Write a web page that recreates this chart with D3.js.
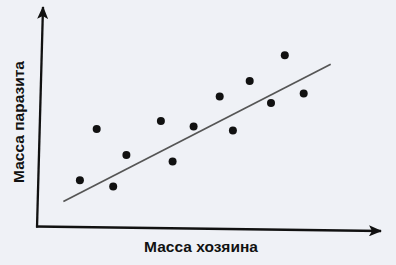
<!DOCTYPE html>
<html>
<head>
<meta charset="utf-8">
<script src="https://cdn.jsdelivr.net/npm/d3@7"></script>
<style>
  html, body { margin: 0; padding: 0; background: #eff1f6; }
  svg { display: block; }
  text { font-family: "Liberation Sans", Arial, sans-serif; font-weight: bold; fill: #111; }
</style>
</head>
<body>
<svg id="chart" width="396" height="265"></svg>
<script>
// данные (условные единицы)
const hostMass = [1.43, 1.99, 2.54, 2.98, 4.13, 4.52, 5.22, 6.09, 6.53, 7.09, 7.80, 8.26, 8.89];
const parasiteMass = [2.29, 4.85, 1.97, 3.55, 5.25, 3.22, 4.97, 6.47, 4.77, 7.25, 6.15, 8.54, 6.62];
const trendX = [0.88, 9.79];
const trendY = [1.22, 8.09];
const xLabel = 'Масса хозяина';
const yLabel = 'Масса паразита';

const svg = d3.select('#chart');

const x = d3.scaleLinear().domain([0, 10]).range([37, 337]);
const y = d3.scaleLinear().domain([0, 10]).range([226, 26]);

svg.append('defs').append('marker')
  .attr('id', 'arrow')
  .attr('viewBox', '0 0 13 11')
  .attr('refX', 12).attr('refY', 5.5)
  .attr('markerWidth', 13).attr('markerHeight', 11)
  .attr('markerUnits', 'userSpaceOnUse')
  .attr('orient', 'auto')
  .append('path')
  .attr('d', 'M0,0 L13,5.5 L0,11 L3,5.5 Z')
  .attr('fill', '#111');

// оси (слегка перекошены, как на скане)
const axes = svg.append('g');
axes.append('line')
  .attr('x1', 37).attr('y1', 227.5).attr('x2', 43).attr('y2', 7)
  .attr('stroke', '#111').attr('stroke-width', 2.3)
  .attr('marker-end', 'url(#arrow)');
axes.append('line')
  .attr('x1', 36).attr('y1', 226.5).attr('x2', 381).attr('y2', 231)
  .attr('stroke', '#111').attr('stroke-width', 2.3)
  .attr('marker-end', 'url(#arrow)');

// линия тренда
svg.append('line')
  .attr('x1', x(trendX[0])).attr('y1', y(trendY[0]))
  .attr('x2', x(trendX[1])).attr('y2', y(trendY[1]))
  .attr('stroke', '#555').attr('stroke-width', 1.7);

// точки
svg.append('g').selectAll('circle')
  .data(hostMass.map((v, i) => [v, parasiteMass[i]]))
  .enter().append('circle')
  .attr('cx', d => x(d[0]))
  .attr('cy', d => y(d[1]))
  .attr('r', 4)
  .attr('fill', '#111');

// подписи осей
svg.append('text')
  .attr('x', 201).attr('y', 252)
  .attr('text-anchor', 'middle')
  .style('font-size', '15.5px')
  .text(xLabel);

svg.append('text')
  .attr('transform', 'translate(24,122) rotate(-90)')
  .attr('text-anchor', 'middle')
  .style('font-size', '15.5px')
  .text(yLabel);
</script>
</body>
</html>
